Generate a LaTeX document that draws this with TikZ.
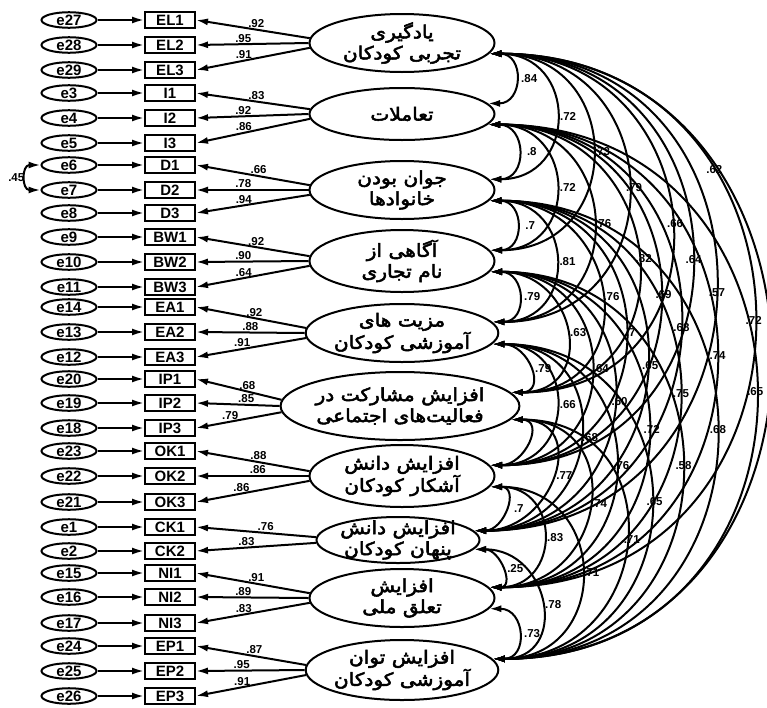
\documentclass[tikz,border=0pt]{standalone}
\usepackage{fontspec}
\setmainfont{Liberation Sans}
\newfontfamily\arabicfont[Script=Arabic,FakeBold=3,FakeStretch=1.12]{DejaVu Sans}
\TeXXeTstate=1
\usetikzlibrary{shapes.geometric,arrows.meta}

\tikzset{
  lat/.style={ellipse, draw, line width=2pt, minimum width=185pt, minimum height=58pt,
    inner xsep=0pt, inner ysep=-3pt, align=center, font=\arabicfont\fontsize{18}{21}\selectfont},
  ind/.style={rectangle, draw, line width=2pt, minimum width=50pt, minimum height=16pt,
    inner sep=0pt, text height=11pt, text depth=0pt, font=\bfseries\fontsize{15}{15}\selectfont},
  err/.style={ellipse, draw, line width=2pt, minimum width=55pt, minimum height=15pt,
    inner sep=0pt, text height=11pt, text depth=0pt, font=\bfseries\fontsize{15}{15}\selectfont},
  arr/.style={line width=2pt, -{Latex[length=12pt,width=7pt]}},
  cov/.style={line width=2pt, {Latex[length=12pt,width=7pt]}-{Latex[length=12pt,width=7pt]}},
  num/.style={font=\bfseries\fontsize{11.5}{11.5}\selectfont, inner sep=1pt},
}

\def\latY{{43,114,190,261,333,406,476,540,598,670}}
\def\bulge{{0.53,0.53,0.52,0.51,0.50,0.49,0.49,0.495,0.459}}
\def\shft{{14,12,10,6,4,2,2,0,0}}

\begin{document}
\begin{tikzpicture}[x=1pt,y=-1pt]
\useasboundingbox (0,0) rectangle (767,707);

% latent variables
\node[lat] (L1) at (402,43) {\beginR یادگیری\endR\\\beginR تجربی کودکان\endR};
\node[lat, minimum height=52pt] (L2) at (402,114) {\beginR تعاملات\endR};
\node[lat] (L3) at (402,190) {\beginR جوان بودن\endR\\\beginR خانوادها\endR};
\node[lat, minimum height=62pt] (L4) at (402,261) {\beginR آگاهی از\endR\\\beginR نام تجاری\endR};
\node[lat] (L5) at (402,333) {\beginR مزیت های\endR\\\beginR آموزشی کودکان\endR};
\node[lat, minimum width=226pt, minimum height=68pt] (L6) at (400,406) {\beginR افزایش مشارکت در\endR\\\beginR فعالیت‌های اجتماعی\endR};
\node[lat, minimum height=62pt] (L7) at (402,476) {\beginR افزایش دانش\endR\\\beginR آشکار کودکان\endR};
\node[lat, minimum width=163pt, minimum height=46pt, inner xsep=-12pt, inner ysep=-7pt] (L8) at (398,540) {\beginR افزایش دانش\endR\\\beginR پنهان کودکان\endR};
\node[lat] (L9) at (402,598) {\beginR افزایش\endR\\\beginR تعلق ملی\endR};
\node[lat, minimum width=190pt, minimum height=60pt] (L10) at (402,670) {\beginR افزایش توان\endR\\\beginR آموزشی کودکان\endR};

% observed variables and their errors
\foreach \ind/\e/\y in {EL1/27/20, EL2/28/45, EL3/29/70, I1/3/93, I2/4/118, I3/5/143,
  D1/6/165, D2/7/190, D3/8/213, BW1/9/237, BW2/10/262, BW3/11/287,
  EA1/14/307, EA2/13/332, EA3/12/357, IP1/20/379, IP2/19/403, IP3/18/428,
  OK1/23/451, OK2/22/476, OK3/21/502, CK1/1/527, CK2/2/551,
  NI1/15/573, NI2/16/597, NI3/17/623, EP1/24/646, EP2/25/671, EP3/26/696}
{
  \node[err] (e\e) at (69,\y) {e\e};
  \node[ind] (\ind) at (170,\y) {\ind};
  \draw[arr] (e\e) -- (\ind);
}

% loadings
\foreach \l/\ind/\a/\v/\p in {
  1/EL1/177/.92/0.47, 1/EL2/180/.95/0.58, 1/EL3/183/.91/0.58,
  2/I1/177/.83/0.47, 2/I2/180/.92/0.58, 2/I3/183/.86/0.58,
  3/D1/177/.66/0.45, 3/D2/180/.78/0.58, 3/D3/183/.94/0.58,
  4/BW1/177/.92/0.47, 4/BW2/180/.90/0.58, 4/BW3/183/.64/0.58,
  5/EA1/177/.92/0.47, 5/EA2/180/.88/0.5, 5/EA3/183/.91/0.58,
  6/IP1/177/.68/0.4, 6/IP2/180/.85/0.4, 6/IP3/183/.79/0.6,
  7/OK1/177/.88/0.45, 7/OK2/180/.86/0.45, 7/OK3/183/.86/0.6,
  8/CK1/178/.76/0.42, 8/CK2/182/.83/0.58,
  9/NI1/177/.91/0.47, 9/NI2/180/.89/0.58, 9/NI3/183/.83/0.58,
  10/EP1/177/.87/0.47, 10/EP2/180/.95/0.58, 10/EP3/183/.91/0.58}
{
  \draw[arr] (L\l.\a) -- (\ind.east) node[num, pos=\p, above] {\v};
}

% error covariance
\draw[cov] (e6.west) .. controls +(-19,0) and +(-19,0) .. (e7.west)
  node[num, pos=0.5, left=0pt] {.45};

% factor covariances
\draw[cov] (L6.-7) .. controls +(35,0) and +(35,0) .. (L7.7);
\foreach \i/\j/\v/\p in {
  1/2/.84/0.5, 2/3/.8/0.5, 3/4/.7/0.5, 4/5/.79/0.5, 5/6/.79/0.5, 7/8/.7/0.5, 8/9/.25/0.5, 9/10/.73/0.5,
  1/3/.72/0.5, 2/4/.72/0.5, 3/5/.81/0.5, 4/6/.63/0.5, 5/7/.66/0.5, 6/8/.77/0.5, 7/9/.83/0.5, 8/10/.78/0.5,
  1/4/.73/0.5, 2/5/.76/0.5, 3/6/.76/0.5, 4/7/.64/0.5, 5/8/.68/0.5, 6/9/.74/0.5, 7/10/.71/0.5,
  1/5/.79/0.5, 2/6/.82/0.5, 3/7/.7/0.5, 4/8/.60/0.5, 5/9/.76/0.5, 6/10/.71/0.5,
  1/6/.66/0.5, 2/7/.69/0.5, 3/8/.65/0.5, 4/9/.72/0.5, 5/10/.65/0.5,
  1/7/.64/0.5, 2/8/.68/0.5, 3/9/.75/0.5, 4/10/.58/0.5,
  1/8/.57/0.5, 2/9/.74/0.5, 3/10/.68/0.5,
  1/9/.72/0.5, 2/10/.65/0.5,
  1/10/.62/0.28}
{
  \pgfmathtruncatemacro\sp{\j-\i}
  \pgfmathsetmacro\dd{\latY[\j-1]-\latY[\i-1]-21}
  \pgfmathsetmacro\hh{4/3*\dd*\bulge[\sp-1]}
  \pgfmathsetmacro\sx{\shft[\sp-1]}
  \draw[cov] (L\i.-7) .. controls +(\hh,0) and +(\hh,0) .. (L\j.7)
    node[num, pos=\p, xshift=\sx] {\v};
}
\end{tikzpicture}
\end{document}
